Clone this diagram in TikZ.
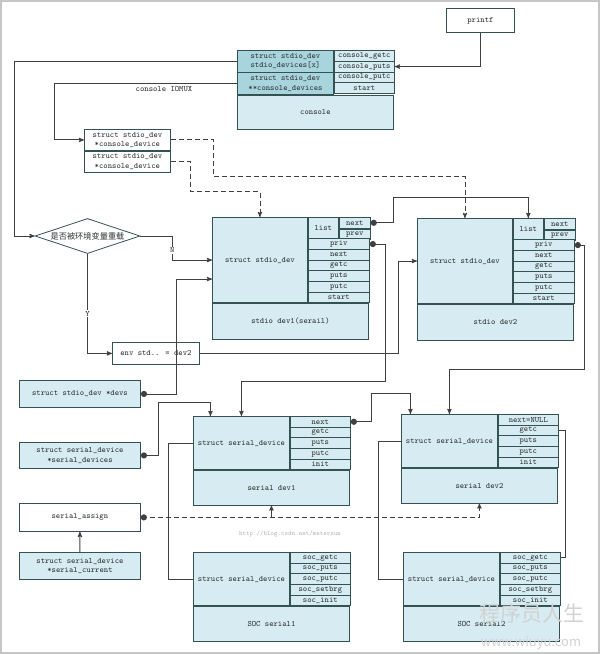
\documentclass[tikz,border=0pt]{standalone}
\usepackage{fontspec}
\newfontfamily\cjk{Noto Sans CJK SC}
\usetikzlibrary{arrows, shapes.geometric, calc}
\definecolor{boxfill}{RGB}{214,236,242}
\definecolor{keyfill}{RGB}{168,212,222}
\definecolor{boxline}{RGB}{52,82,82}
\definecolor{wireline}{RGB}{64,64,64}
\definecolor{inkc}{RGB}{45,50,50}

\begin{document}
\begin{tikzpicture}[x=1pt, y=-1pt, >=stealth',
  every node/.style={font=\ttfamily\fontsize{8.2}{9.4}\selectfont, text=inkc},
  cell/.style={draw=boxline, line width=0.9pt, fill=boxfill, anchor=north west, inner sep=0pt, align=center, minimum height=10.65},
  key/.style={cell, fill=keyfill},
  plain/.style={draw=boxline, line width=0.8pt, fill=white, anchor=north west, inner sep=0pt, align=center},
  wire/.style={draw=wireline, line width=0.9pt},
  dashline/.style={dash pattern=on 5pt off 3pt},
  lbl/.style={fill=white, inner sep=1pt}]
\useasboundingbox (0,0) rectangle (600,654);
\draw[gray!45, line width=1.5pt] (1,1) rectangle (599,653);

% console and its entry points
  \node[plain, minimum width=68, minimum height=24] (printf) at (446,8) {printf};
  \node[key, minimum width=96, minimum height=21.5] (cs1) at (237,50) {struct stdio\_dev\\stdio\_devices[x]};
  \node[key, minimum width=96, minimum height=21.5] (cs2) at (cs1.south west) {struct stdio\_dev\\**console\_devices};
  \foreach \f [count=\i] in {console\_getc,console\_puts,console\_putc,start}
    \node[cell, minimum width=60, minimum height=10.75] (cf\i) at ($(cs1.north east)+(0,{10.75*\i-10.75})$) {\f};
  \node[cell, minimum width=156, minimum height=34] (con) at (cs2.south west) {console};
  \node (iomux) at (164,89) {console IOMUX};
  \node[plain, minimum width=86, minimum height=21] (cd1) at (84,129) {struct stdio\_dev\\*console\_device};
  \node[plain, minimum width=86, minimum height=21] (cd2) at (cd1.south west) {struct stdio\_dev\\*console\_device};
  \node[draw=boxline, line width=0.8pt, diamond, aspect=3, inner sep=0pt, minimum width=105, minimum height=35,
        font=\cjk\fontsize{8.2}{9}\selectfont] (reload) at (87.5,236) {是否被环境变量重载};
  \node[plain, minimum width=87, minimum height=22] (env) at (112,342) {env std.. = dev2};

% stdio devices
  \foreach \n/\x/\y/\t in {sd1/212/217/stdio dev1(serail), sd2/417/218/stdio dev2} {
    \node[cell, minimum width=95, minimum height=85.2] (\n) at (\x,\y) {struct stdio\_dev};
    \node[cell, minimum width=156, minimum height=35.5] (\n-b) at (\n.south west) {\t};
    \node[cell, minimum width=30, minimum height=21.3] (\n-list) at (\n.north east) {list};
    \node[cell, minimum width=31] (\n-next) at (\n-list.north east) {next};
    \node[cell, minimum width=31] (\n-prev) at (\n-next.south west) {prev};
    \foreach \f [count=\i] in {priv,next,getc,puts,putc,start}
      \node[cell, minimum width=61] (\n-f\i) at ($(\n.north east)+(0,{10.65*\i+10.65})$) {\f};
  }

% serial devices and soc drivers
  \foreach \n/\x/\y/\t/\fs in {ser1/193/416/serial dev1/{next,getc,puts,putc,init},
      ser2/401/414/serial dev2/{next=NULL,getc,puts,putc,init},
      soc1/193/552/SOC serial1/{soc\_getc,soc\_puts,soc\_putc,soc\_setbrg,soc\_init},
      soc2/403/552/SOC serial2/{soc\_getc,soc\_puts,soc\_putc,soc\_setbrg,soc\_init}} {
    \node[cell, minimum width=96, minimum height=53.2] (\n) at (\x,\y) {struct serial\_device};
    \node[cell, minimum width=156, minimum height=34.5] (\n-b) at (\n.south west) {\t};
    \foreach \f [count=\i] in \fs
      \node[cell, minimum width=60] (\n-f\i) at ($(\n.north east)+(0,{10.65*\i-10.65})$) {\f};
  }

% global pointers
  \node[cell, minimum width=121, minimum height=27] (devs) at (19,380) {struct stdio\_dev *devs};
  \node[cell, minimum width=121, minimum height=26] (sdevs) at (19,442) {struct serial\_device\\*serial\_devices};
  \node[plain, minimum width=121, minimum height=28] (assign) at (19,503) {serial\_assign};
  \node[cell, minimum width=121, minimum height=27] (scur) at (19,552) {struct serial\_device\\*serial\_current};

% define the links
  \draw[wire,->] (printf.south) |- (cf2.east);
  \draw[wire,->] (cs1.west) -- ++(-223,0) |- (reload.west);
  \draw[wire,->] (cs2.west) -- ++(-183,0) |- (cd1.west);
  \draw[wire,->,dashline] (cd1.east) -- ++(43,0) -- ++(0,36.5) -| (sd2.north);
  \draw[wire,->,dashline] (cd2.east) -- ++(20,0) -- ++(0,29.5) -| (sd1.north);
  \draw[wire,->] (reload.east) -- ++(32,0) |- node[lbl,pos=0.3] {N} (sd1.west);
  \draw[wire,->] (reload.south) |- node[lbl,pos=0.3] {Y} (env.west);
  \draw[wire,->] (env.east) -- ++(199,0) |- (sd2.west);
  \draw[wire,*->] (devs.east) -- ++(36,0) |- ([yshift=-19pt]sd1.west);
  \draw[wire,*->] (sd1-next.east) -- ++(23,0) -- ++(0,-25) -| (sd2-list.north);
  \draw[wire,*->] (sd1-f1.east) -| ++(16,137) -| (ser1.north);
  \draw[wire,*->] (sd2-f1.east) -| ++(10,124.5) -| (ser2.north);
  \draw[wire,*->] (sdevs.east) -| ++(18,-53) -| ([xshift=-31pt]ser1.north);
  \draw[wire,*->] (ser1-f1.east) -| ++(21,-28) -| ([xshift=-39pt]ser2.north);
  \draw[wire] (ser2-f2.east) -- ++(7,0) |- (soc2-f1.east);
  \draw[wire] (soc1.west) -- ++(-25,0) |- (ser1.west);
  \draw[wire] (soc2.west) -- ++(-25,0) |- (ser2.west);
  \draw[wire,->] (scur.north) -- (assign.south);
  \draw[wire,*->,dashline] (assign.east) -| (ser2-b.south);
  \coordinate (tap) at (ser1-b.south |- assign.east);
  \draw[wire,->] (tap) -- (ser1-b.south);

% marks on the picture
  \node[text=gray!60, font=\ttfamily\fontsize{6.6}{7}\selectfont] (csdn) at (290,534) {http://blog.csdn.net/metersun};
  \node[text=gray!35, font=\cjk\fontsize{21}{22}\selectfont] (wm) at (532,614) {程序员人生};
  \node[text=gray!35, font=\cjk\fontsize{13}{14}\selectfont] (wmurl) at (531,643) {www.wiuyu.com};
\end{tikzpicture}
\end{document}
